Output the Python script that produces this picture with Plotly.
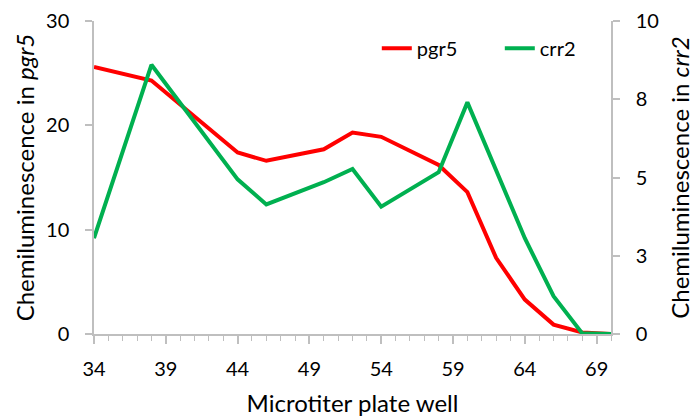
import plotly.graph_objects as go

wells = [34, 38, 44, 46, 50, 52, 54, 58, 60, 62, 64, 66, 68, 70]
pgr5 = [25.6, 24.3, 17.4, 16.6, 17.7, 19.3, 18.9, 16.2, 13.6, 7.3, 3.3, 0.9, 0.15, 0.0]
crr2_x = [34, 38, 44, 46, 50, 52, 54, 58, 60, 64, 66, 68, 70]
crr2 = [3.06, 8.6, 4.94, 4.14, 4.85, 5.27, 4.07, 5.17, 7.4, 3.06, 1.21, 0.02, 0.0]

x_ticks = [34, 39, 44, 49, 54, 59, 64, 69]
left_ticks = [0, 10, 20, 30]
right_tickvals = [0, 2.5, 5, 7.5, 10]
right_ticktext = ["0", "3", "5", "8", "10"]

FONT = "Lato"
AX = "#bfbfbf"

fig = go.Figure()
fig.add_trace(go.Scatter(x=wells, y=pgr5, mode="lines", name="pgr5",
                         line=dict(color="#ff0000", width=4)))
fig.add_trace(go.Scatter(x=crr2_x, y=crr2, mode="lines", name="crr2", yaxis="y2",
                         line=dict(color="#00b050", width=4)))

fig.update_layout(
    width=694, height=417,
    margin=dict(l=94, r=83, t=21, b=83, autoexpand=False),
    paper_bgcolor="white", plot_bgcolor="white",
    font=dict(family=FONT, size=20, color="#000000"),
    showlegend=True,
    legend=dict(orientation="h", x=0.547, y=0.975, xanchor="left", yanchor="top",
                bgcolor="rgba(0,0,0,0)", font=dict(size=20), entrywidth=78,
                itemwidth=30),
    xaxis=dict(range=[34, 70], tickvals=x_ticks, showgrid=False, zeroline=False,
               automargin=False,
               showline=True, linecolor=AX, linewidth=1.5,
               ticks="outside", ticklen=8, tickcolor=AX, tickwidth=1.5,
               ticklabelstandoff=8,
               minor=dict(dtick=1, ticks="outside", ticklen=5, tickcolor=AX, tickwidth=1),
               title=dict(text="Microtiter plate well", standoff=18)),
    yaxis=dict(range=[0, 30], tickvals=left_ticks, showgrid=False, zeroline=False,
               automargin=False,
               showline=True, linecolor=AX, linewidth=1.5,
               ticks="outside", ticklen=7, tickcolor=AX, tickwidth=1.5,
               ticklabelstandoff=12,
               title=dict(text="Chemiluminescence in <i>pgr5</i>", standoff=5)),
    yaxis2=dict(range=[0, 10], tickvals=right_tickvals, ticktext=right_ticktext,
                overlaying="y", side="right", showgrid=False, zeroline=False,
                automargin=False,
                showline=True, linecolor=AX, linewidth=1.5,
                ticks="outside", ticklen=7, tickcolor=AX, tickwidth=1.5,
                ticklabelstandoff=12,
                title=dict(text="Chemiluminescence in <i>crr2</i>", standoff=16)),
)

fig.write_html("out.html")
